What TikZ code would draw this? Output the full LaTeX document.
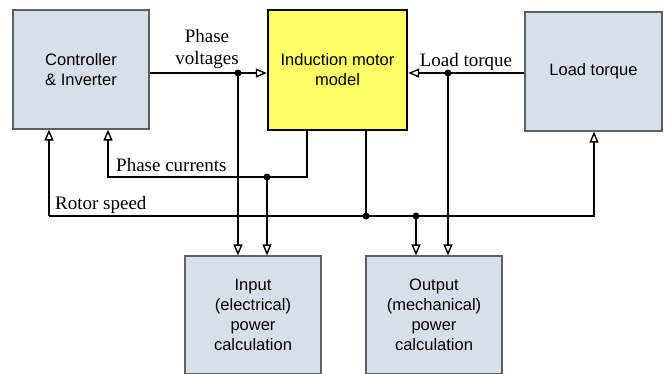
\documentclass[tikz,border=0pt]{standalone}
\usepackage{fontspec}
\setmainfont{Liberation Serif}
\setsansfont{Liberation Sans}
\usetikzlibrary{arrows.meta}
\definecolor{boxfill}{RGB}{214,223,234}
\definecolor{boxline}{RGB}{96,96,96}
\definecolor{motorfill}{RGB}{255,255,102}
\begin{document}
\begin{tikzpicture}[x=1pt,y=-1pt,
  blk/.style={draw=boxline, line width=1.2pt, fill=boxfill, align=center,
    font=\sffamily\fontsize{16.5}{20}\selectfont, inner sep=0pt},
  motorblk/.style={blk, draw=black, line width=2.4pt, fill=motorfill},
  wire/.style={line width=1.6pt},
  arr/.style={wire, -{Triangle[open, length=11pt, width=9pt, line width=1.4pt]}},
  lbl/.style={font=\rmfamily\fontsize{19}{22}\selectfont, inner sep=0pt, align=center},
  dot/.style={circle, fill=black, inner sep=0pt, minimum size=7pt}
]
\clip (0,0) rectangle (665,373);
% blocks
\node[blk, minimum width=136pt, minimum height=119pt] (ctrl) at (81,69.5) {Controller\\\& Inverter};
\node[motorblk, minimum width=139pt, minimum height=120pt] (motor) at (337.5,70) {Induction motor\\model};
\node[blk, minimum width=137pt, minimum height=119pt] (load) at (593.5,71.5) {Load torque};
\node[blk, minimum width=136pt, minimum height=118pt] (inp) at (253,315) {Input\\(electrical)\\power\\calculation};
\node[blk, minimum width=136pt, minimum height=118pt] (out) at (434,315) {Output\\(mechanical)\\power\\calculation};
% junction coordinates
\coordinate (pv) at (238,73);
\coordinate (lt) at (448,73);
\coordinate (pcm) at (307,177);
\coordinate (pcl) at (108,177);
\coordinate (pc) at (267,177);
\coordinate (rsl) at (49,216);
\coordinate (rsr) at (594,216);
\coordinate (rsm) at (366,216);
\coordinate (rso) at (416,216);
% phase voltages
\draw[arr] (ctrl.east |- pv) -- (motor.west |- pv);
\draw[arr] (pv) -- (pv |- inp.north);
% load torque
\draw[arr] (load.west |- lt) -- (motor.east |- lt);
\draw[arr] (lt) -- (lt |- out.north);
% phase currents
\draw[arr] (motor.south -| pcm) -- (pcm) -- (pcl) -- (ctrl.south -| pcl);
\draw[arr] (pc) -- (pc |- inp.north);
% rotor speed
\draw[arr] (rsl) -- (ctrl.south -| rsl);
\draw[arr] (rsl) -- (rsr) -- (load.south -| rsr);
\draw[wire] (motor.south -| rsm) -- (rsm);
\draw[arr] (rso) -- (rso |- out.north);
% dots
\node[dot] (dpv) at (pv) {};
\node[dot] (dlt) at (lt) {};
\node[dot] (dpc) at (pc) {};
\node[dot] (drsm) at (rsm) {};
\node[dot] (drso) at (rso) {};
% labels
\node[lbl] (lpv) at (207,48.5) {Phase\\voltages};
\node[lbl, anchor=base west] (lpc) at (116,171) {Phase currents};
\node[lbl, anchor=base west] (lrs) at (55,209) {Rotor speed};
\node[lbl, anchor=base] (llt) at (466,66) {Load torque};
\end{tikzpicture}
\end{document}
